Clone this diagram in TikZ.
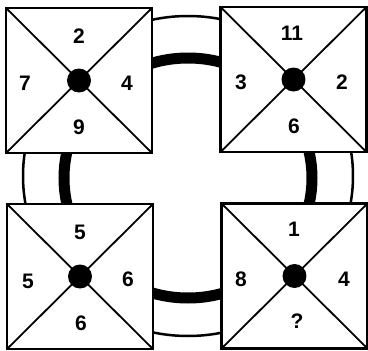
\documentclass[tikz,border=0pt]{standalone}
\usepackage{fontspec}
\setmainfont{Liberation Sans}
\begin{document}
\begin{tikzpicture}[x=1pt,y=-1pt,
  sq/.style={draw,fill=white,line width=2.3pt,minimum width=146pt,minimum height=145pt,inner sep=0pt,outer sep=0pt},
  diag/.style={line width=1.8pt},
  hub/.style={circle,fill=black,minimum size=24pt,inner sep=0pt},
  num/.style={font=\fontsize{21}{24}\selectfont\bfseries,inner sep=0pt},
  thinring/.style={line width=2.5pt},
  thickring/.style={line width=11pt}]
\useasboundingbox (0,0) rectangle (368,351);
\draw[thinring] (188,176) ellipse [x radius=165, y radius=160];
\draw[thickring] (188,178) ellipse [x radius=124, y radius=120];
% squares
\node[sq] (tl) at (79,80.5) {};
\node[sq] (tr) at (293.5,79.5) {};
\node[sq] (bl) at (80,276.5) {};
\node[sq] (br) at (294.5,276) {};
\foreach \s in {tl,tr,bl,br}{
  \draw[diag] (\s.north west) -- (\s.south east);
  \draw[diag] (\s.north east) -- (\s.south west);
  \node[hub] (\s-hub) at (\s.center) {};
}
% numbers
\node[num] (tl-t) at (79,36) {2};
\node[num] (tl-l) at (25,83) {7};
\node[num] (tl-r) at (127,83) {4};
\node[num] (tl-b) at (79,127) {9};
\node[num] (tr-t) at (292,33) {11};
\node[num] (tr-l) at (241,82) {3};
\node[num] (tr-r) at (342,82) {2};
\node[num] (tr-b) at (294,126) {6};
\node[num] (bl-t) at (80,232) {5};
\node[num] (bl-l) at (28,281) {5};
\node[num] (bl-r) at (128,279) {6};
\node[num] (bl-b) at (81,323) {6};
\node[num] (br-t) at (294,229) {1};
\node[num] (br-l) at (241,279) {8};
\node[num] (br-r) at (344,279) {4};
\node[num] (br-b) at (297,321) {?};
\end{tikzpicture}
\end{document}
